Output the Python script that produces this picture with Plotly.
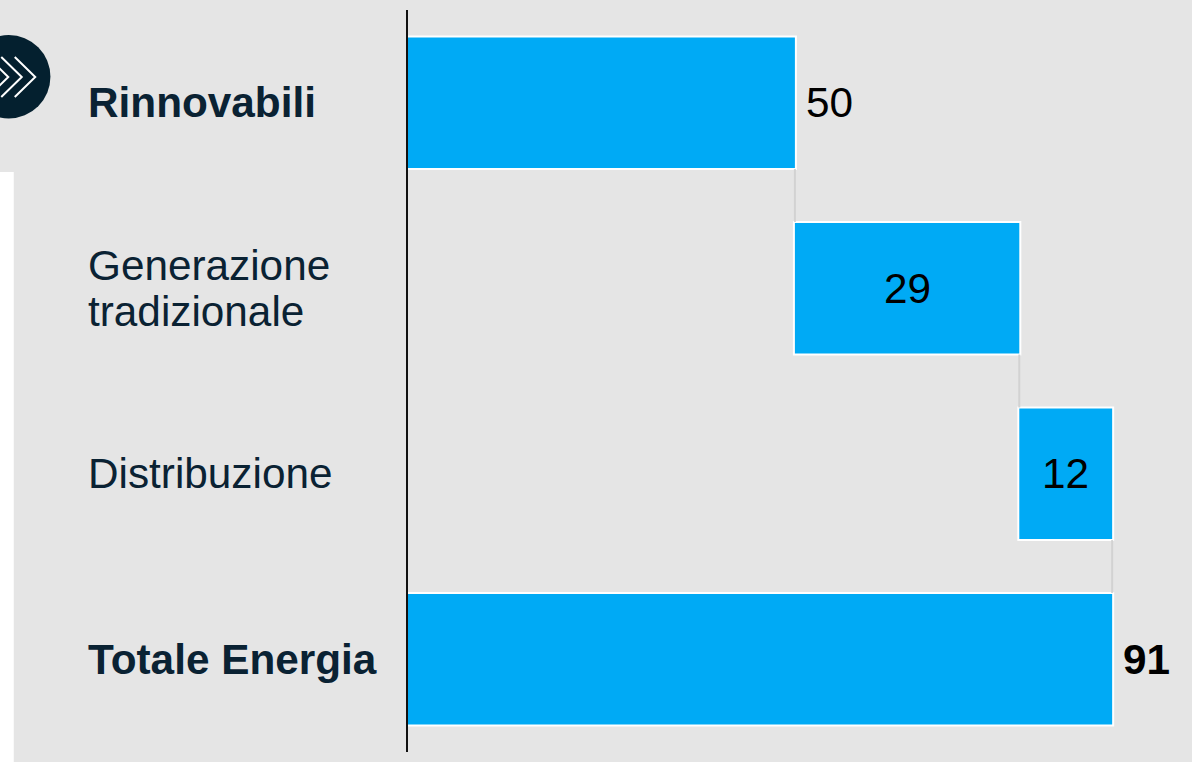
import plotly.graph_objects as go

categories = ["Rinnovabili", "Generazione tradizionale", "Distribuzione", "Totale Energia"]
category_lines = [["Rinnovabili"], ["Generazione", "tradizionale"], ["Distribuzione"], ["Totale Energia"]]
category_bold = [True, False, False, True]
values = [50, 29, 12, 91]
measures = ["relative", "relative", "relative", "total"]
value_label_pos = ["outside", "inside", "inside", "outside"]

W, H = 1192, 762
ML, MR, MT, MB = 407.5, 0, 10, 10
PX_PER_UNIT = 704.6 / 91
BG = "#e5e5e5"
BAR = "#00aaf5"
INK = "#0a2233"
FONT = "Liberation Sans, Arial, sans-serif"
FS = 42.3
LINE_GAP = 46


def px(x):
    return (x - ML) / (W - ML - MR)


def py(y):
    return 1 - (y - MT) / (H - MT - MB)


fig = go.Figure(
    go.Waterfall(
        orientation="h",
        y=categories,
        x=values,
        measure=measures,
        width=0.715,
        increasing=dict(marker=dict(color=BAR, line=dict(color="white", width=2))),
        totals=dict(marker=dict(color=BAR, line=dict(color="white", width=2))),
        connector=dict(mode="between", line=dict(color="#d2d2d2", width=2)),
        cliponaxis=False,
        hoverinfo="skip",
    )
)

annotations = []
running = 0
for cat, lines, bold, val, meas, pos in zip(categories, category_lines, category_bold, values, measures, value_label_pos):
    for i, line in enumerate(lines):
        offset = (i - (len(lines) - 1) / 2) * LINE_GAP
        annotations.append(dict(
            x=px(85.5), xref="paper", y=cat, yref="y", xanchor="left", yanchor="middle", align="left",
            yshift=-offset, showarrow=False, text=f"<b>{line}</b>" if bold else line,
            font=dict(family=FONT, size=FS, color=INK),
        ))
    if meas == "total":
        start, end = 0, val
    else:
        start, end = running, running + val
        running = end
    if pos == "outside":
        annotations.append(dict(
            x=end, y=cat, xref="x", yref="y", xanchor="left", yanchor="middle", xshift=9,
            showarrow=False, text=f"<b>{val}</b>" if bold and meas == "total" else str(val),
            font=dict(family=FONT, size=FS, color="black"),
        ))
    else:
        annotations.append(dict(
            x=(start + end) / 2, y=cat, xref="x", yref="y", xanchor="center", yanchor="middle",
            showarrow=False, text=str(val),
            font=dict(family=FONT, size=FS, color="black"),
        ))


def chevron(x0, x1, color="white"):
    return dict(
        type="path", xref="paper", yref="paper",
        path=f"M {px(x0)} {py(57)} L {px(x1)} {py(77)} L {px(x0)} {py(97)}",
        line=dict(color=color, width=2),
    )


shapes = [
    dict(type="rect", xref="paper", yref="paper", x0=px(-5), x1=px(13), y0=py(172), y1=py(770),
         fillcolor="white", line=dict(width=0), layer="below"),
    dict(type="circle", xref="paper", yref="paper", x0=px(8 - 41.7), x1=px(8 + 41.7), y0=py(35), y1=py(118.4),
         fillcolor="#04202f", line=dict(width=0)),
    chevron(14, 34.5),
    chevron(0.5, 21),
    chevron(-13, 7.5),
]

fig.update_layout(
    width=W, height=H,
    margin=dict(l=ML, r=MR, t=MT, b=MB, pad=0),
    paper_bgcolor=BG, plot_bgcolor=BG,
    showlegend=False,
    font=dict(family=FONT, size=FS, color=INK),
    xaxis=dict(range=[0, (W - ML - MR) / PX_PER_UNIT], visible=False, showgrid=False, zeroline=False),
    yaxis=dict(autorange=False, range=[3.5, -0.5], showgrid=False, zeroline=False, showticklabels=False,
               ticks="", showline=True, linecolor="#111111", linewidth=1.5),
    annotations=annotations,
    shapes=shapes,
)

fig.write_html("out.html", config=dict(displayModeBar=False),
               post_script="document.body.style.margin='0';document.documentElement.style.overflow='hidden';")
